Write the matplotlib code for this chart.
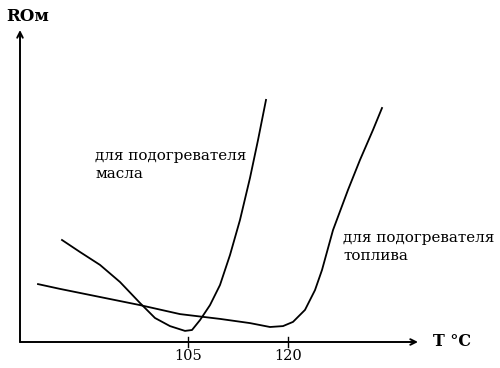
import matplotlib.pyplot as plt

# oil heater curve (T, R)
oil_t = [86.1, 88.8, 91.8, 94.8, 97.8, 100.05, 102.3, 104.55, 105.6, 106.8, 108.3,
         109.8, 111.3, 112.8, 114.3, 115.5, 116.7]
oil_r = [34, 30, 25.7, 20, 13, 8, 5.3, 3.7, 4, 7.3, 12.3, 19, 29, 40.7, 54.7, 67.3, 80.7]

# fuel heater curve
fuel_t = [82.5, 85.8, 91.8, 97.8, 103.8, 109.8, 114.3, 117.3, 119.25, 120.75, 122.55,
          124.05, 125.1, 126.75, 129, 130.8, 132.75, 134.1]
fuel_r = [19.3, 17.7, 15, 12.3, 9.3, 7.7, 6.3, 5, 5.3, 6.7, 10.7, 17.3, 24, 37.3,
          50.7, 60.7, 70.7, 78]

ticks = [105, 120]
tick_labels = ['105', '120']

fig = plt.figure(figsize=(5, 3.68), dpi=100)
ax = fig.add_axes([0, 0, 1, 1])
ax.set_xlim(76.8, 151.8)
ax.set_ylim(-8.667, 114)
ax.axis('off')

x0, y0 = 79.8, 0
# axes with arrows
ax.annotate('', xy=(139.5, y0), xytext=(x0, y0),
            arrowprops=dict(arrowstyle='->', lw=1.4, color='black', shrinkA=0, shrinkB=0))
ax.annotate('', xy=(x0, 104), xytext=(x0, y0),
            arrowprops=dict(arrowstyle='->', lw=1.4, color='black', shrinkA=0, shrinkB=0))

for t, lab in zip(ticks, tick_labels):
    ax.plot([t, t], [-1.7, 1.7], color='black', lw=1)
    ax.text(t, -4.8, lab, ha='center', va='center', family='DejaVu Serif', fontsize=10.5)

ax.plot(oil_t, oil_r, color='black', lw=1.3)
ax.plot(fuel_t, fuel_r, color='black', lw=1.3)

ax.text(77.7, 108.5, 'RОм', family='DejaVu Serif', fontsize=12, fontweight='bold',
        ha='left', va='center')
ax.text(141.8, 0, 'T °C', family='DejaVu Serif', fontsize=11.5, fontweight='bold',
        ha='left', va='center')

ax.text(91.05, 59, 'для подогревателя\nмасла', family='DejaVu Serif', fontsize=10.9,
        ha='left', va='center', linespacing=1.35)
ax.text(128.25, 31.8, 'для подогревателя\nтоплива', family='DejaVu Serif', fontsize=10.9,
        ha='left', va='center', linespacing=1.35)

plt.savefig('out.png', dpi=100)
